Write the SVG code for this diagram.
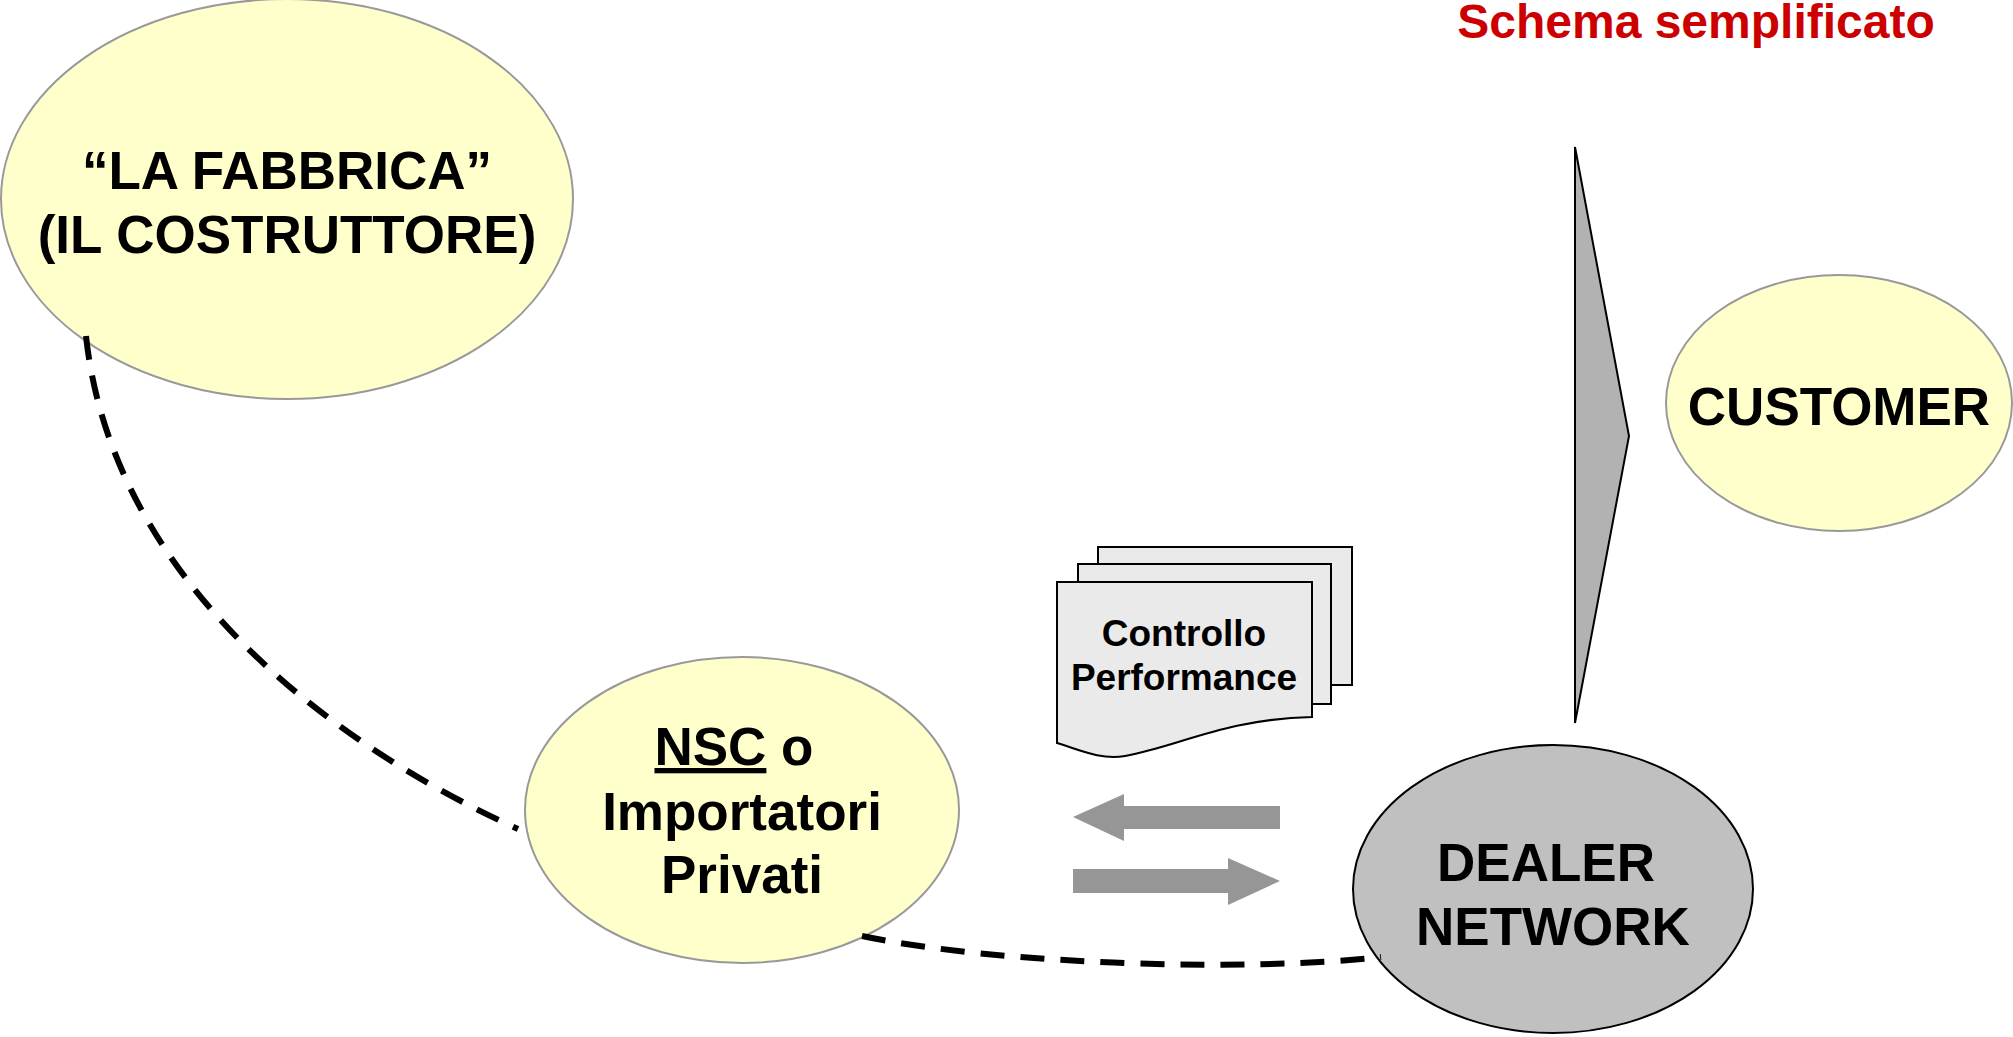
<svg xmlns="http://www.w3.org/2000/svg" width="2013" height="1037" viewBox="0 0 2013 1037">
  <style>
    .lbl { font-family: "Liberation Sans", Arial, sans-serif; font-weight: bold; fill: #000; text-anchor: middle; }
    .big { font-size: 53px; }
    .yel { fill: #ffffcc; stroke: #999999; stroke-width: 2; }
    .doc { fill: #eaeaea; stroke: #000; stroke-width: 2; }
    .dash { fill: none; stroke: #000; stroke-width: 6; stroke-dasharray: 24 16; }
    .garrow { fill: #969696; stroke: none; }
    .ul { text-decoration: underline; text-underline-offset: 9px; text-decoration-thickness: 4px; }
  </style>
  <rect width="2013" height="1037" fill="#ffffff"/>

  <text x="1696" y="38" class="lbl" style="font-size:48px; fill:#cc0000;">Schema semplificato</text>

  <g id="node-fabbrica">
    <ellipse class="yel" cx="287" cy="199" rx="286" ry="200"/>
    <text class="lbl big" x="287" y="189">“LA FABBRICA”</text>
    <text class="lbl big" x="287" y="253">(IL COSTRUTTORE)</text>
  </g>

  <g id="node-nsc">
    <ellipse class="yel" cx="742" cy="810" rx="217" ry="153"/>
    <text class="lbl big" x="734" y="765"><tspan class="ul">NSC</tspan> o</text>
    <text class="lbl big" x="742" y="830">Importatori</text>
    <text class="lbl big" x="742" y="893">Privati</text>
  </g>

  <g id="node-customer">
    <ellipse class="yel" cx="1839" cy="403" rx="173" ry="128"/>
    <text class="lbl big" x="1839" y="425">CUSTOMER</text>
  </g>

  <g id="node-dealer">
    <ellipse cx="1553" cy="889" rx="200" ry="144" fill="#c0c0c0" stroke="#000" stroke-width="2"/>
    <text class="lbl big" x="1546" y="881">DEALER</text>
    <text class="lbl big" x="1553" y="945">NETWORK</text>
  </g>

  <g id="node-controllo">
    <rect class="doc" x="1098" y="547" width="254" height="138"/>
    <rect class="doc" x="1078" y="564" width="253" height="140"/>
    <path class="doc" d="M1057,582 H1312 V717 C1225,719 1180,746 1125,756 C1100,760 1080,750 1057,743 Z"/>
    <text class="lbl" style="font-size:37px;" x="1184" y="646">Controllo</text>
    <text class="lbl" style="font-size:37px;" x="1184" y="690">Performance</text>
  </g>

  <g id="node-flow-arrow">
    <polygon points="1575,147 1629,436 1575,723" fill="#b2b2b2" stroke="#000" stroke-width="2" stroke-linejoin="miter"/>
  </g>

  <g id="connectors">
    <path class="dash" d="M86,336 C110,560 300,730 518,829"/>
    <path class="dash" d="M862,936 C1000,965 1250,972 1381,957"/>
    <polygon class="garrow" points="1073,817 1124,794 1124,806 1280,806 1280,829 1124,829 1124,841"/>
    <polygon class="garrow" points="1280,881 1228,858 1228,869 1073,869 1073,893 1228,893 1228,905"/>
  </g>
</svg>
